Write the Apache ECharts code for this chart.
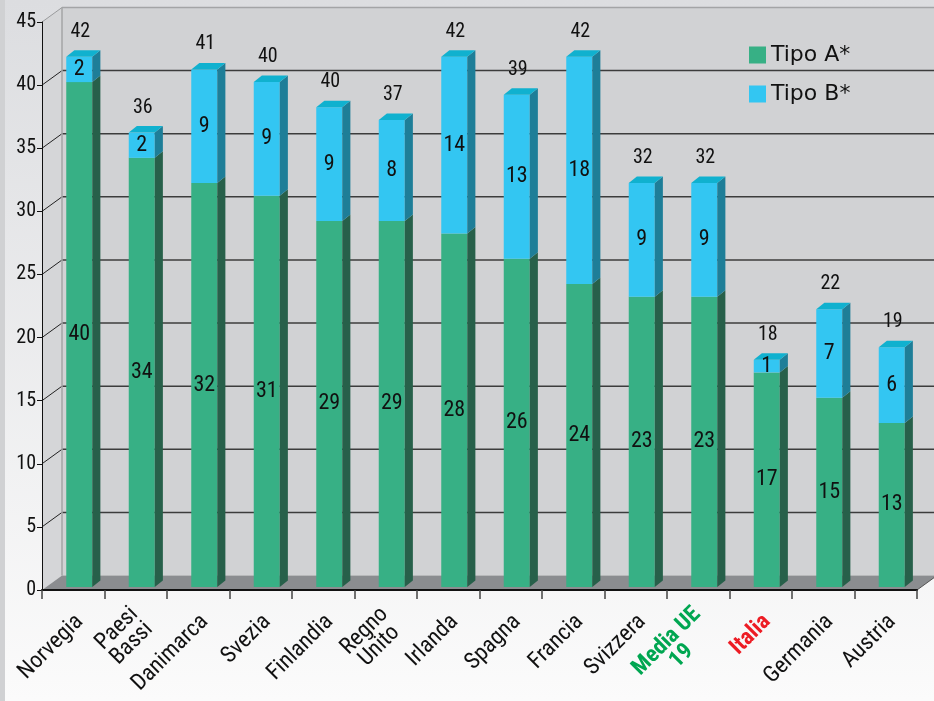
<!DOCTYPE html>
<html>
<head>
<meta charset="utf-8">
<script src="https://cdn.jsdelivr.net/npm/echarts@6/dist/echarts.min.js"></script>
<style>
  html, body { margin: 0; padding: 0; background: #fff; }
  #chart { width: 934px; height: 701px; }
</style>
</head>
<body>
<div id="chart"></div>
<script>
// Countries on the horizontal axis
const categories = ['Norvegia', 'Paesi\nBassi', 'Danimarca', 'Svezia', 'Finlandia', 'Regno\nUnito',
  'Irlanda', 'Spagna', 'Francia', 'Svizzera', 'Media UE\n19', 'Italia', 'Germania', 'Austria'];
// Segment values
const tipoA = [40, 34, 32, 31, 29, 29, 28, 26, 24, 23, 23, 17, 15, 13];
const tipoB = [2, 2, 9, 9, 9, 8, 14, 13, 18, 9, 9, 1, 7, 6];
// Totals printed above each column
const totals = [42, 36, 41, 40, 40, 37, 42, 39, 42, 32, 32, 18, 22, 19];
// Value axis ticks
const yTicks = [0, 5, 10, 15, 20, 25, 30, 35, 40, 45];

const NARROW = '"Roboto Condensed", "DejaVu Sans Condensed", sans-serif';
const COLORS = {
  aFront: '#37b085', aSide: '#27604a',
  bFront: '#33c6f2', bSide: '#1e7e98', bTop: '#10b1cf'
};
// Offset of the back wall from the front plane of the box
const DEPTH_X = 20, DEPTH_Y = -14.5;

const chart = echarts.init(document.getElementById('chart'));

// Back wall, side wall, floor and the gridlines of the box
function renderBackdrop(params, api) {
  const cs = params.coordSys;
  const left = cs.x, right = cs.x + cs.width;
  const yMax = yTicks[yTicks.length - 1];
  const y0 = api.coord([0, 0])[1];
  const yT = api.coord([0, yMax])[1];
  const children = [];
  children.push({ type: 'rect', shape: { x: left + DEPTH_X, y: yT + DEPTH_Y, width: cs.width + 40, height: y0 - yT },
    style: { fill: '#d1d2d4' } });
  children.push({ type: 'polygon', shape: { points: [[left, yT], [left + DEPTH_X, yT + DEPTH_Y], [left + DEPTH_X, y0 + DEPTH_Y], [left, y0]] },
    style: { fill: '#d5d6d8' } });
  yTicks.forEach(v => {
    const y = api.coord([0, v])[1];
    if (v > 0 && v < yMax) {
      children.push({ type: 'line', shape: { x1: left + DEPTH_X, y1: y + DEPTH_Y, x2: right + DEPTH_X + 30, y2: y + DEPTH_Y },
        style: { stroke: '#3c3c3c', lineWidth: 1.5 } });
    }
    if (v > 0) {
      children.push({ type: 'line', shape: { x1: left, y1: y, x2: left + DEPTH_X, y2: y + DEPTH_Y },
        style: { stroke: v === yMax ? '#9a9b9d' : '#222', lineWidth: 1 } });
    }
  });
  // top edge and back-left corner of the box
  children.push({ type: 'line', shape: { x1: left + DEPTH_X, y1: yT + DEPTH_Y, x2: right + DEPTH_X + 30, y2: yT + DEPTH_Y },
    style: { stroke: '#a3a4a6', lineWidth: 1.5 } });
  children.push({ type: 'line', shape: { x1: left + DEPTH_X, y1: yT + DEPTH_Y, x2: left + DEPTH_X, y2: y0 + DEPTH_Y },
    style: { stroke: '#a3a4a6', lineWidth: 1.5 } });
  // floor
  children.push({ type: 'polygon', shape: { points: [[left, y0], [right, y0], [right + DEPTH_X, y0 + DEPTH_Y], [left + DEPTH_X, y0 + DEPTH_Y]] },
    style: { fill: '#8b8d90' } });
  children.push({ type: 'line', shape: { x1: right, y1: y0, x2: right + DEPTH_X, y2: y0 + DEPTH_Y },
    style: { stroke: '#555', lineWidth: 1 } });
  return { type: 'group', children };
}

// One stacked segment drawn as a prism: front face, side face, optional top face
function makeSegmentRenderer(front, side, top, withTotal) {
  return function (params, api) {
    const i = api.value(0), lo = api.value(1), hi = api.value(2);
    const band = api.size([1, 0])[0];
    const w = band * 0.416;
    const shiftX = band * 0.096, shiftY = -3;
    const dx = band * 0.13, dy = -6.5;
    const pLo = api.coord([i, lo]), pHi = api.coord([i, hi]);
    const cx = pLo[0] + shiftX;
    const x0 = cx - w / 2, x1 = cx + w / 2;
    const yb = pLo[1] + shiftY, yt = pHi[1] + shiftY;
    const children = [
      { type: 'rect', shape: { x: x0, y: yt, width: w, height: yb - yt }, style: { fill: front } },
      { type: 'polygon', shape: { points: [[x1, yb], [x1 + dx, yb + dy], [x1 + dx, yt + dy], [x1, yt]] }, style: { fill: side } }
    ];
    if (top) {
      children.push({ type: 'polygon', shape: { points: [[x0, yt], [x0 + dx, yt + dy], [x1 + dx, yt + dy], [x1, yt]] }, style: { fill: top } });
    }
    children.push({ type: 'text', x: cx, y: (yt + yb) / 2, style: {
      text: String(hi - lo), fill: '#111', font: '22px ' + NARROW, align: 'center', verticalAlign: 'middle' } });
    if (withTotal) {
      children.push({ type: 'text', x: cx + 1, y: yt - 25, style: {
        text: String(api.value(3)), fill: '#111', font: '20px ' + NARROW, align: 'center', verticalAlign: 'middle' } });
    }
    return { type: 'group', children };
  };
}

const dataA = categories.map((c, i) => [i, 0, tipoA[i]]);
const dataB = categories.map((c, i) => [i, tipoA[i], tipoA[i] + tipoB[i], totals[i]]);

// Highlighted category names: EU average in green, Italy in red
const labelTags = { 'Media UE\n19': 'g', 'Italia': 'r' };
const labelFont = { fontFamily: NARROW, fontSize: 23, lineHeight: 21, align: 'center' };

chart.setOption({
  backgroundColor: {
    type: 'linear', x: 0, y: 0, x2: 0, y2: 1,
    colorStops: [{ offset: 0, color: '#dcdde0' }, { offset: 1, color: '#fbfbfb' }]
  },
  animation: false,
  graphic: [{ type: 'rect', left: 0, top: 0, shape: { width: 5, height: 701 }, style: { fill: '#d0d1d3' }, z: 0 }],
  grid: { left: 42, right: 17, top: 22, bottom: 111, outerBoundsMode: 'none', containLabel: false },
  legend: {
    orient: 'vertical', left: 744, top: 39,
    itemWidth: 17, itemHeight: 17, itemGap: 17,
    icon: 'rect',
    textStyle: { fontFamily: 'DejaVu Sans', fontSize: 22, color: '#111' },
    data: ['Tipo A*', 'Tipo B*']
  },
  xAxis: {
    type: 'category', data: categories, z: 5,
    axisLine: { lineStyle: { color: '#111', width: 2 } },
    axisTick: { show: true, length: 9, interval: 0, lineStyle: { color: '#444', width: 1.5 } },
    axisLabel: {
      interval: 0, rotate: 45, margin: 22, color: '#111',
      fontFamily: NARROW, fontSize: 23, lineHeight: 21, padding: [18, 0, 0, 0],
      formatter: v => {
        const tag = labelTags[v] || 'n';
        return v.split('\n').map(s => '{' + tag + '|' + s + '}').join('\n');
      },
      rich: {
        n: Object.assign({ color: '#111' }, labelFont),
        g: Object.assign({ color: '#00a651', fontWeight: 'bold' }, labelFont),
        r: Object.assign({ color: '#ed1c24', fontWeight: 'bold' }, labelFont)
      }
    },
    splitLine: { show: false }
  },
  yAxis: {
    type: 'value', min: 0, max: 45, interval: 5, z: 5,
    axisLine: { show: true, lineStyle: { color: '#111', width: 1 } },
    axisTick: { show: true, length: 5, lineStyle: { color: '#111' } },
    axisLabel: { color: '#111', fontFamily: NARROW, fontSize: 20, margin: 6, padding: [0, 0, 6, 0] },
    splitLine: { show: false }
  },
  series: [
    { type: 'custom', name: 'backdrop', silent: true, z: 1, renderItem: renderBackdrop, data: [[0, 0]] },
    { type: 'custom', name: 'Tipo A*', z: 3, itemStyle: { color: COLORS.aFront },
      renderItem: makeSegmentRenderer(COLORS.aFront, COLORS.aSide, null, false), data: dataA },
    { type: 'custom', name: 'Tipo B*', z: 3, itemStyle: { color: COLORS.bFront },
      renderItem: makeSegmentRenderer(COLORS.bFront, COLORS.bSide, COLORS.bTop, true), data: dataB }
  ]
});
</script>
</body>
</html>
